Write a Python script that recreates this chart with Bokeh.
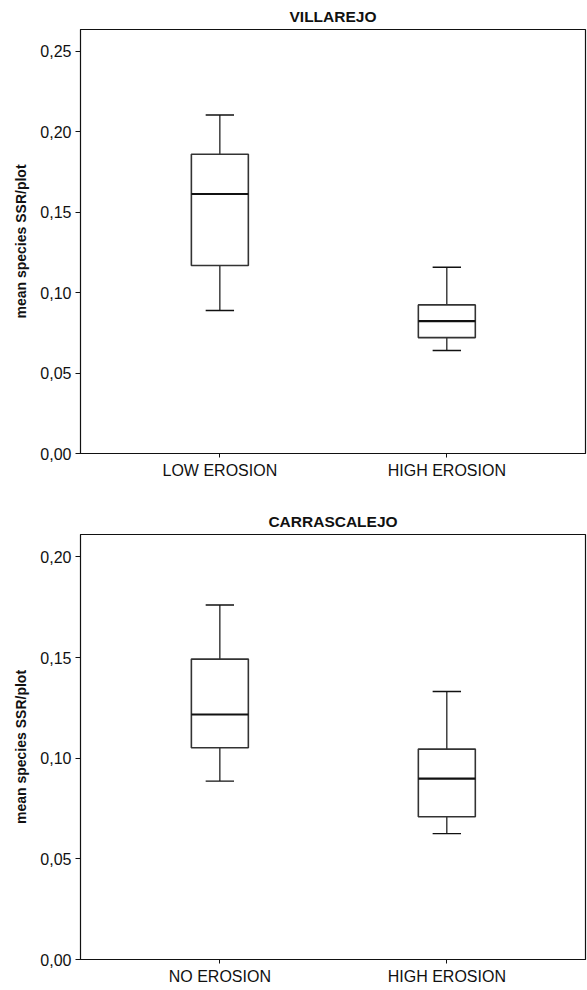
from bokeh.plotting import figure
from bokeh.layouts import column
from bokeh.models import FixedTicker, CustomJSTickFormatter, Range1d
from bokeh.embed import file_html
from bokeh.resources import INLINE

FONT = "Liberation Sans"

# Top panel: VILLAREJO
v_title = "VILLAREJO"
v_categories = ["LOW EROSION", "HIGH EROSION"]
v_whisk_lo = [0.0888, 0.0640]
v_q1 = [0.1168, 0.0720]
v_median = [0.1612, 0.0822]
v_q3 = [0.1859, 0.0923]
v_whisk_hi = [0.2103, 0.1157]
v_yticks = [0.00, 0.05, 0.10, 0.15, 0.20, 0.25]

# Bottom panel: CARRASCALEJO
c_title = "CARRASCALEJO"
c_categories = ["NO EROSION", "HIGH EROSION"]
c_whisk_lo = [0.0886, 0.0625]
c_q1 = [0.1052, 0.0709]
c_median = [0.1217, 0.0898]
c_q3 = [0.1492, 0.1045]
c_whisk_hi = [0.1761, 0.1331]
c_yticks = [0.00, 0.05, 0.10, 0.15, 0.20]

y_label = "mean species SSR/plot"


def make_panel(title, cats, wlo, q1, med, q3, whi, yticks, y_end,
               frame_h, border_top, border_bottom):
    xs = [i + 1 for i in range(len(cats))]
    p = figure(
        frame_width=505, frame_height=frame_h,
        min_border_left=80, min_border_right=2,
        min_border_top=border_top, min_border_bottom=border_bottom,
        x_range=Range1d(0.386, 2.611), y_range=Range1d(0, y_end),
        output_backend="svg", toolbar_location=None,
        title=title,
    )
    p.title.align = "center"
    p.title.text_font = FONT
    p.title.text_font_size = "15.5px"
    p.title.text_font_style = "bold"
    p.title.text_color = "#111111"
    p.title.offset = 0
    p.title.standoff = 9

    p.xgrid.visible = False
    p.ygrid.visible = False
    p.outline_line_color = "#111111"
    p.outline_line_width = 1.2
    p.outline_line_alpha = 1.0
    p.background_fill_color = "white"
    p.border_fill_color = "white"

    # whiskers
    p.segment(x0=xs, y0=wlo, x1=xs, y1=q1, line_color="#111111", line_width=1.2)
    p.segment(x0=xs, y0=q3, x1=xs, y1=whi, line_color="#111111", line_width=1.2)
    cap_lo = [x - 0.0625 for x in xs]
    cap_hi = [x + 0.0625 for x in xs]
    p.segment(x0=cap_lo, y0=wlo, x1=cap_hi, y1=wlo, line_color="#111111", line_width=1.4)
    p.segment(x0=cap_lo, y0=whi, x1=cap_hi, y1=whi, line_color="#111111", line_width=1.4)
    # boxes
    p.vbar(x=xs, width=0.251, bottom=q1, top=q3, fill_color="white",
           line_color="#333333", line_width=1.6)
    # medians
    p.segment(x0=[x - 0.1255 for x in xs], y0=med, x1=[x + 0.1255 for x in xs], y1=med,
              line_color="#111111", line_width=2.2)

    # axes
    p.xaxis.ticker = FixedTicker(ticks=xs)
    p.xaxis.major_label_overrides = {x: c for x, c in zip(xs, cats)}
    p.xaxis.minor_tick_line_color = None
    p.xaxis.major_tick_in = 0
    p.xaxis.major_tick_out = 4
    p.xaxis.major_label_standoff = 4
    p.xaxis.major_label_text_font = FONT
    p.xaxis.major_label_text_font_size = "16px"
    p.xaxis.major_label_text_color = "#111111"
    p.xaxis.axis_line_color = "#111111"
    p.xaxis.major_tick_line_color = "#111111"

    p.yaxis.ticker = FixedTicker(ticks=yticks)
    p.yaxis.formatter = CustomJSTickFormatter(code="return tick.toFixed(2).replace('.', ',');")
    p.yaxis.minor_tick_line_color = None
    p.yaxis.major_tick_in = 0
    p.yaxis.major_tick_out = 5
    p.yaxis.major_label_standoff = 4
    p.yaxis.major_label_text_font = FONT
    p.yaxis.major_label_text_font_size = "16px"
    p.yaxis.major_label_text_color = "#111111"
    p.yaxis.axis_line_color = "#111111"
    p.yaxis.major_tick_line_color = "#111111"
    p.yaxis.axis_label = y_label
    p.yaxis.axis_label_text_font = FONT
    p.yaxis.axis_label_text_font_size = "14px"
    p.yaxis.axis_label_text_font_style = "bold"
    p.yaxis.axis_label_text_color = "#111111"
    p.yaxis.axis_label_standoff = 8
    return p


p1 = make_panel(v_title, v_categories, v_whisk_lo, v_q1, v_median, v_q3, v_whisk_hi,
                v_yticks, 0.2634, 424, 29, 42)
p2 = make_panel(c_title, c_categories, c_whisk_lo, c_q1, c_median, c_q3, c_whisk_hi,
                c_yticks, 0.2111, 425, 39, 31)

layout = column(p1, p2, spacing=0)
open("out.html", "w").write(file_html(layout, INLINE))
